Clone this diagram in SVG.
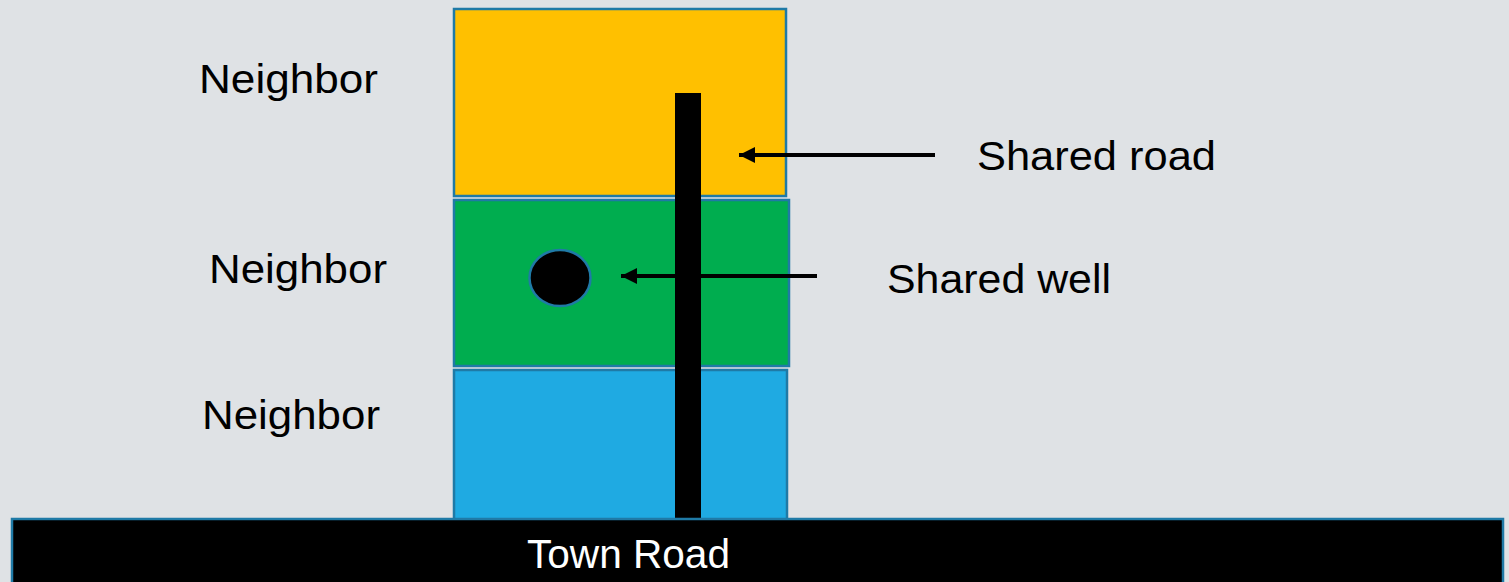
<svg xmlns="http://www.w3.org/2000/svg" width="1509" height="582" viewBox="0 0 1509 582">
<style>
.lot{stroke:#1F7AA6;stroke-width:2.5}
.lbl{font-family:"Liberation Sans",Arial,sans-serif;font-size:40px;fill:#000}
.arr{stroke:#000;stroke-width:4;fill:none}
</style>
<defs>
<marker id="ah" markerWidth="4" markerHeight="4" refX="4" refY="2" orient="auto" markerUnits="strokeWidth">
<path d="M0,0 L4,2 L0,4 Z" fill="#000"/>
</marker>
</defs>
<rect width="1509" height="582" fill="#DFE2E5"/>
<g id="lot-yellow"><rect class="lot" x="454" y="9" width="332" height="187" fill="#FFC000"/></g>
<g id="lot-green"><rect class="lot" x="454" y="200" width="335" height="166" fill="#00AD4F"/></g>
<g id="lot-blue"><rect class="lot" x="454" y="370" width="333" height="152" fill="#1FAAE2"/></g>
<g id="well"><ellipse cx="560" cy="278" rx="30.5" ry="28" fill="#000" stroke="#1F7AA6" stroke-width="2.5"/></g>
<g id="shared-road"><rect x="675" y="93" width="26" height="430" fill="#000"/></g>
<g id="town-road">
<rect x="12" y="519" width="1491" height="70" fill="#000" stroke="#1F7AA6" stroke-width="2.5"/>
<text x="628.5" y="568" text-anchor="middle" class="lbl" style="fill:#fff" textLength="203" lengthAdjust="spacingAndGlyphs">Town Road</text>
</g>
<g id="labels">
<text class="lbl" x="199" y="93" textLength="179" lengthAdjust="spacingAndGlyphs">Neighbor</text>
<text class="lbl" x="209" y="283" textLength="178" lengthAdjust="spacingAndGlyphs">Neighbor</text>
<text class="lbl" x="202" y="429" textLength="178" lengthAdjust="spacingAndGlyphs">Neighbor</text>
<text class="lbl" x="977" y="170" textLength="239" lengthAdjust="spacingAndGlyphs">Shared road</text>
<text class="lbl" x="887" y="293" textLength="224" lengthAdjust="spacingAndGlyphs">Shared well</text>
</g>
<g id="connectors">
<line class="arr" x1="935" y1="155" x2="739" y2="155" marker-end="url(#ah)"/>
<line class="arr" x1="817" y1="276" x2="621" y2="276" marker-end="url(#ah)"/>
</g>
</svg>
